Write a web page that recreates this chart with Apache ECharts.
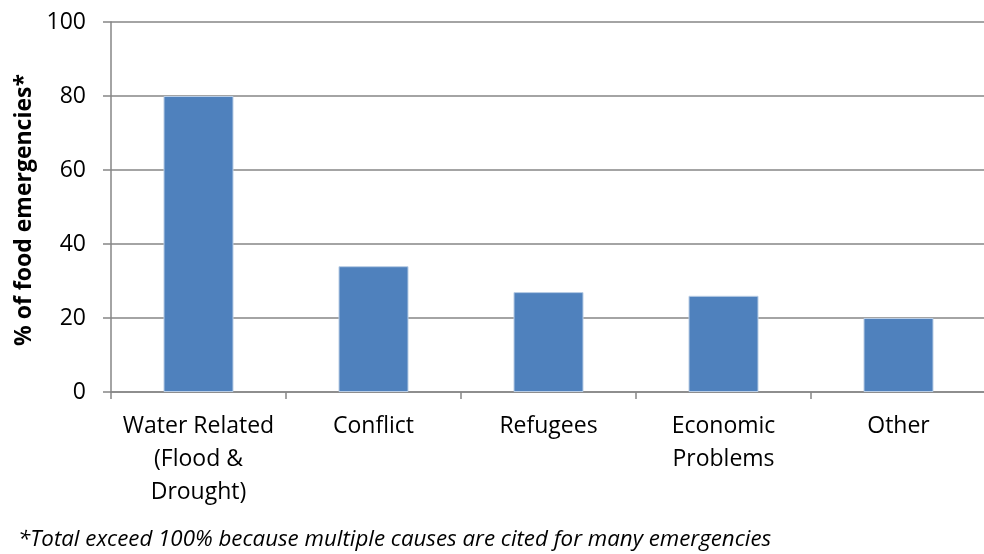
<!DOCTYPE html>
<html>
<head>
<meta charset="utf-8">
<script src="https://cdn.jsdelivr.net/npm/echarts@6/dist/echarts.min.js"></script>
<style>
  html, body { margin: 0; padding: 0; background: #fff; }
  #chart { width: 984px; height: 554px; }
</style>
</head>
<body>
<div id="chart"></div>
<script>
// Causes of food emergencies (share of emergencies citing each cause)
const categories = ['Water Related\n(Flood &\nDrought)', 'Conflict', 'Refugees', 'Economic\nProblems', 'Other'];
const shares = [80, 34, 27, 26, 20];
const yTicks = { min: 0, max: 100, interval: 20 };

const FONT = '"Open Sans", sans-serif';
const chart = echarts.init(document.getElementById('chart'));
chart.setOption({
  animation: false,
  grid: { left: 111, right: -2, top: 22, bottom: 162, outerBoundsMode: 'none', containLabel: false },
  xAxis: {
    type: 'category',
    data: categories,
    boundaryGap: true,
    axisLine: { lineStyle: { color: '#868686', width: 1.5 } },
    axisTick: { show: true, length: 7, lineStyle: { color: '#868686', width: 1.5 } },
    axisLabel: {
      color: '#000', fontFamily: FONT, fontSize: 23, lineHeight: 33,
      margin: 18, interval: 0
    }
  },
  yAxis: {
    type: 'value',
    min: yTicks.min, max: yTicks.max, interval: yTicks.interval,
    name: '% of food emergencies*',
    nameLocation: 'middle',
    nameGap: 75,
    nameTextStyle: { color: '#000', fontFamily: FONT, fontSize: 23, fontWeight: 'bold', padding: [0, 6, 0, 0] },
    axisLine: { show: true, lineStyle: { color: '#868686', width: 1.5 } },
    axisTick: { show: true, length: 8, lineStyle: { color: '#868686', width: 1.5 } },
    axisLabel: { color: '#000', fontFamily: FONT, fontSize: 23, margin: 25 },
    splitLine: { show: true, lineStyle: { color: '#868686', width: 1.5 } }
  },
  series: [{
    type: 'bar',
    data: shares,
    barCategoryGap: '60%',
    itemStyle: { color: '#4F81BD', borderColor: '#b9cde5', borderWidth: 1 }
  }],
  graphic: [{
    type: 'text',
    left: 18, top: 529,
    style: {
      text: '*Total exceed 100% because multiple causes are cited for many emergencies',
      fill: '#000', fontFamily: FONT, fontSize: 22.3, fontStyle: 'italic'
    }
  }]
});
</script>
</body>
</html>
